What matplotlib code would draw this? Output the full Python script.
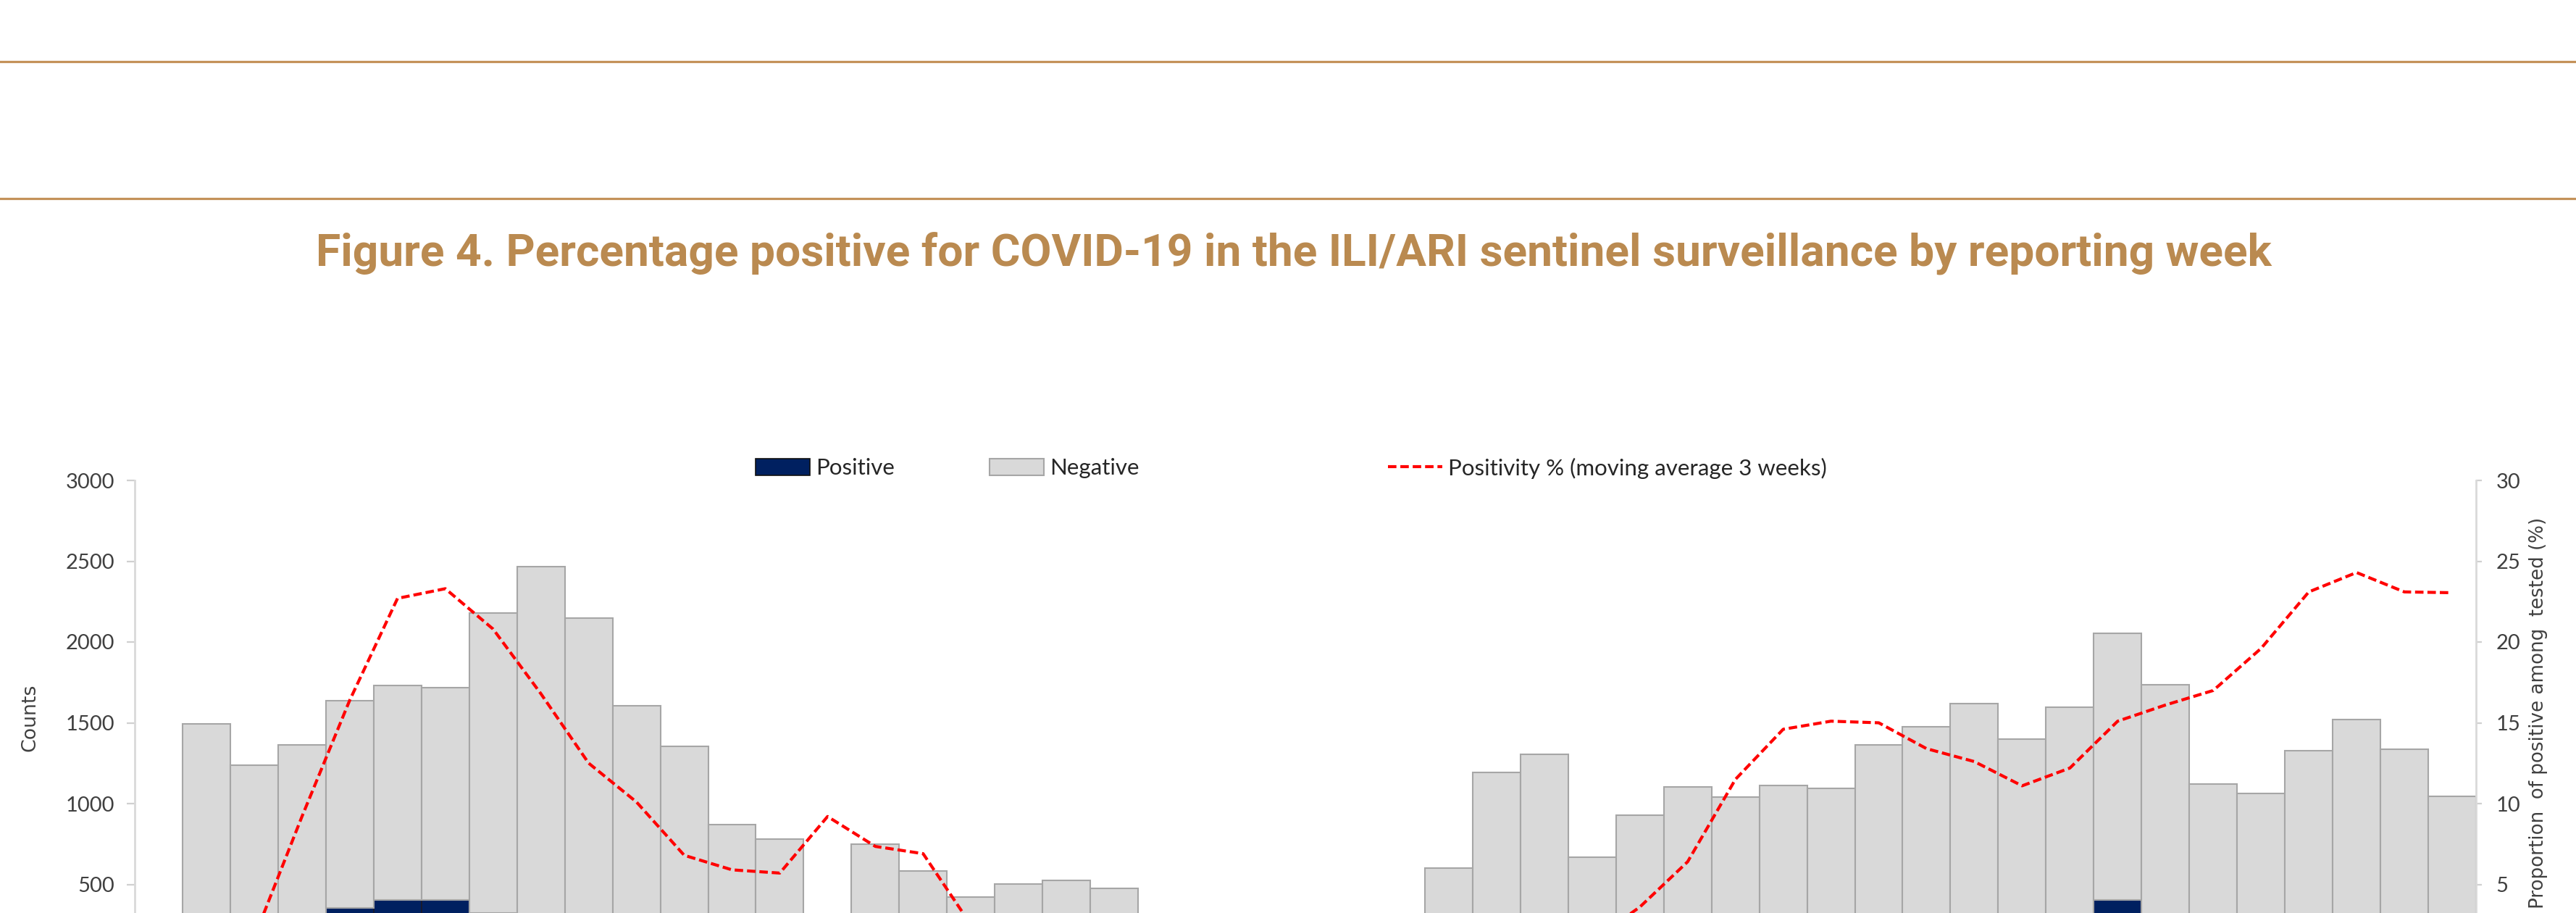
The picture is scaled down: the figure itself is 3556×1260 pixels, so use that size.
import numpy as np
import matplotlib.pyplot as plt
from matplotlib.lines import Line2D
from matplotlib.patches import Patch

W, H = 3556, 1260
DPI = 100

## weekly slots of the sentinel surveillance (48 reporting weeks)
weeks = np.arange(48)

## total tested (top of stacked bar)
total = [1495, 1238, 1361, 1635, 1729, 1718, 2180, 2467, 2150, 1604,
         1354, 870, 781, 0, 748, 583, 423, 504, 523, 476,
         0, 0, 0, 0, 0, 0, 603, 1191, 1304, 669,
         927, 1103, 1042, 1112, 1093, 1363, 1476, 1621, 1401, 1595,
         2054, 1735, 1121, 1065, 1329, 1518, 1337, 1046]

## positive counts (small ones are hidden below the crop, estimated)
positive = [60, 120, 230, 356, 404, 404, 322, 290, 230, 160,
            90, 50, 45, 0, 55, 35, 12, 8, 5, 3,
            0, 0, 0, 0, 0, 0, 3, 8, 15, 25,
            40, 110, 150, 170, 160, 190, 180, 200, 150, 230,
            405, 290, 200, 210, 250, 290, 280, 240]

negative = [t - p for t, p in zip(total, positive)]

## positivity % (moving average 3 weeks)
positivity = [1.0, 1.7, 9.2, 16.4, 22.7, 23.3, 20.8, 16.8, 12.5, 10.1,
              6.8, 5.9, 5.7, 9.2, 7.35, 6.9, 2.5, 1.5, 0.9, 0.6,
              np.nan, np.nan, np.nan, np.nan, np.nan, np.nan, 0.5, 0.8, 1.0, 1.5,
              3.6, 6.4, 11.5, 14.6, 15.1, 15.0, 13.4, 12.6, 11.1, 12.2,
              15.1, 16.1, 17.0, 19.6, 23.1, 24.3, 23.1, 23.05]

gold = '#BA8A50'
txt_font = ['Lato', 'DejaVu Sans']
dash = (0, (2.8, 1.3))

fig = plt.figure(figsize=(W / DPI, H / DPI), dpi=DPI)

# decorative rules at the top
for yp in [84.5, 273.5]:
    fig.add_artist(Line2D([0, 1], [1 - yp / H, 1 - yp / H], transform=fig.transFigure,
                          color='#C4925A', lw=2.3))

fig.text(1786 / W, 1 - 367.7 / H,
         'Figure 4. Percentage positive for COVID-19 in the ILI/ARI sentinel surveillance by reporting week',
         ha='center', va='baseline', fontfamily='Roboto', fontweight='bold',
         fontsize=44.8, color=gold)

ax = fig.add_axes([186 / W, 1 - 1332 / H, (3418 - 186) / W, (1332 - 663) / H])
b_pos = ax.bar(weeks, positive, width=1.0, color='#002060', edgecolor='#1a1a2a', lw=1.2)
b_neg = ax.bar(weeks, negative, bottom=positive, width=1.0, color='#D9D9D9',
               edgecolor='#A6A6A6', lw=1.5)
ax.set_xlim(-1.5, 47.5)
ax.set_ylim(0, 3000)
ax.set_yticks(np.arange(500, 3001, 500))
ax.tick_params(axis='x', length=0, labelbottom=False)
ax.tick_params(axis='y', length=8, width=1.6, color='#D0D0D0', pad=12,
               labelsize=21, labelcolor='#404040')
for t in ax.get_yticklabels():
    t.set_fontfamily(txt_font)
for s in ['top', 'bottom', 'right']:
    ax.spines[s].set_visible(False)
ax.spines['left'].set_color('#D9D9D9')
ax.spines['left'].set_linewidth(2.0)

ax2 = ax.twinx()
ln, = ax2.plot(weeks, positivity, color='#FF0000', lw=3.0, ls=dash)
ax2.set_ylim(0, 30)
ax2.set_yticks(np.arange(5, 31, 5))
ax2.tick_params(axis='y', length=6, width=1.6, color='#D0D0D0', pad=14,
                labelsize=21, labelcolor='#404040')
for t in ax2.get_yticklabels():
    t.set_fontfamily(txt_font)
for s in ['top', 'bottom', 'left']:
    ax2.spines[s].set_visible(False)
ax2.spines['right'].set_color('#D9D9D9')
ax2.spines['right'].set_linewidth(2.0)

fig.text(41 / W, 1 - 990 / H, 'Counts', rotation=90, ha='center', va='center',
         fontsize=19.3, color='#404040')
fig.text(3504 / W, 1 - 714 / H, 'Proportion  of positive among  tested (%)', rotation=90,
         ha='center', va='top', fontsize=18.8, color='#404040')

# legend entries spread across the top like the original
leg_items = [
    (Patch(facecolor='#002060', edgecolor='#111111', lw=1.2), 'Positive', 1043),
    (Patch(facecolor='#D9D9D9', edgecolor='#A6A6A6', lw=1.5), 'Negative', 1366),
    (Line2D([], [], color='#FF0000', lw=3.0, ls=dash),
     'Positivity % (moving average 3 weeks)', 1916),
]
for h, lab, xp in leg_items:
    lg = fig.legend([h], [lab], loc='center left', bbox_to_anchor=(xp / W, 1 - 646 / H),
                    frameon=False, borderpad=0, borderaxespad=0, handlelength=2.4,
                    handleheight=0.75, handletextpad=0.25,
                    prop={'family': txt_font, 'size': 22.5})
    for t in lg.get_texts():
        t.set_color('#262626')

plt.savefig('out.png', dpi=DPI)
